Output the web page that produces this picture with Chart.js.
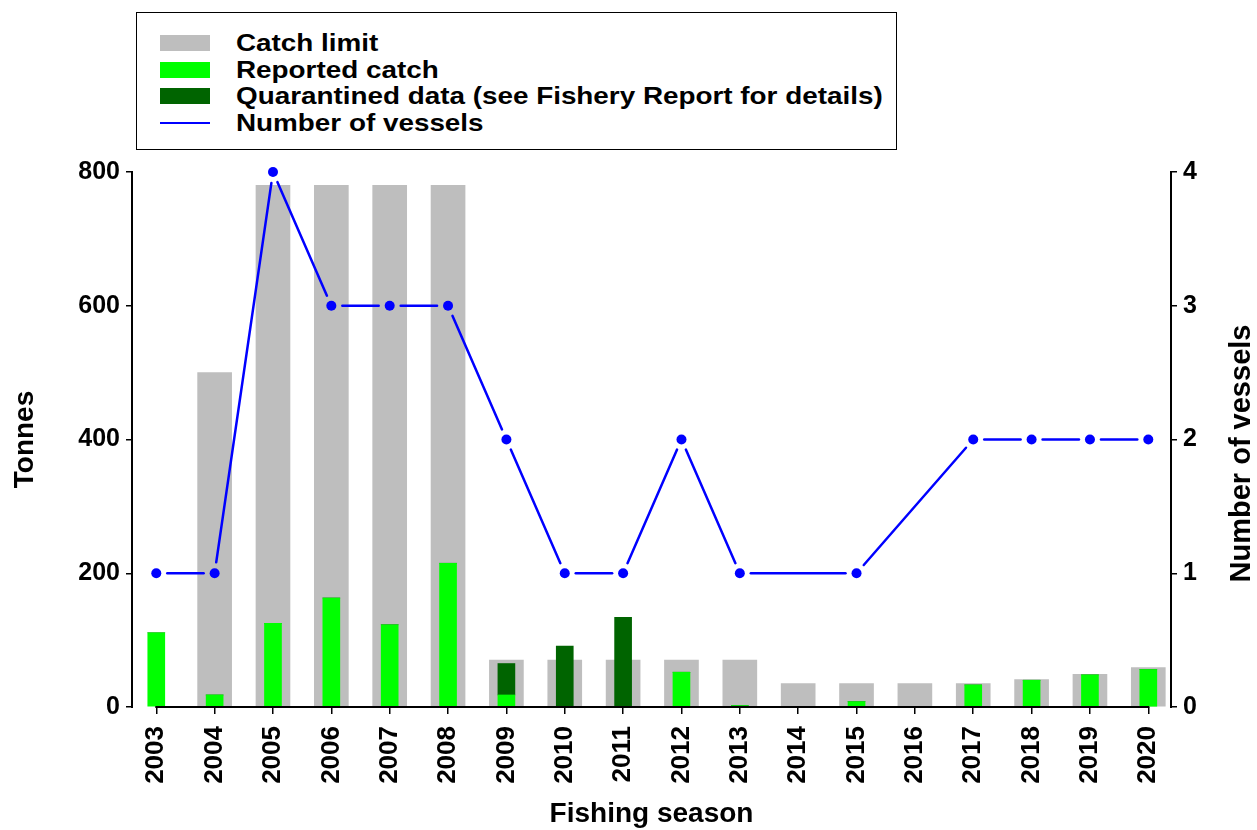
<!DOCTYPE html>
<html>
<head>
<meta charset="utf-8">
<script src="https://cdn.jsdelivr.net/npm/chart.js@4.4.1/dist/chart.umd.min.js"></script>
<style>
  body { margin: 0; background: #fff; }
  #wrap { position: relative; width: 1257px; height: 830px; }
  #legend {
    position: absolute; left: 136px; top: 12px; width: 761px; height: 138px;
    box-sizing: border-box; border: 1.5px solid #000; background: #fff;
    font: bold 24px "Liberation Sans", Arial, sans-serif; color: #000;
  }
  .row { position: absolute; left: 0; height: 26px; width: 700px; }
  .sw { position: absolute; left: 23px; top: 5px; width: 50px; height: 16px; }
  .sw.line { top: 12px; height: 2.5px; }
  .lab { position: absolute; left: 99px; top: 0; line-height: 26px; white-space: nowrap;
         transform: scaleX(1.16); transform-origin: left center; }
</style>
</head>
<body>
<div id="wrap">
  <canvas id="chart" width="1257" height="830"></canvas>
  <div id="legend"></div>
</div>
<script>
"use strict";

// fishing seasons and values
const seasons = [2003, 2004, 2005, 2006, 2007, 2008, 2009, 2010, 2011, 2012, 2013, 2014, 2015, 2016, 2017, 2018, 2019, 2020];
const catchLimit = [null, 500, 780, 780, 780, 780, 70, 70, 70, 70, 70, 35, 35, 35, 35, 41, 49, 59];
const reportedCatch = [111, 18, 125, 163, 123, 215, 18, 0, 0, 52, 2, 0, 8, 0, 33, 40, 48, 56];
const quarantinedCatch = [0, 0, 0, 0, 0, 0, 47, 91, 134, 0, 0, 0, 0, 0, 0, 0, 0, 0];
const vesselCount = [1, 1, 4, 3, 3, 3, 2, 1, 1, 2, 1, null, 1, null, 2, 2, 2, 2];
const tonneTicks = [0, 200, 400, 600, 800];
const vesselTicks = [0, 1, 2, 3, 4];
const rightTitle = "Number of vessels";

const legendItems = [
    { label: "Catch limit", color: "#BEBEBE", line: false },
    { label: "Reported catch", color: "#00FF00", line: false },
    { label: "Quarantined data (see Fishery Report for details)", color: "#006400", line: false },
    { label: "Number of vessels", color: "#0000FF", line: true }
];

(function () {
    const leg = document.getElementById("legend");
    legendItems.forEach(function (it, i) {
        const row = document.createElement("div");
        row.className = "row";
        row.style.top = (17 + i * 26.5) + "px";
        const sw = document.createElement("div");
        sw.className = it.line ? "sw line" : "sw";
        sw.style.background = it.color;
        const lab = document.createElement("div");
        lab.className = "lab";
        lab.textContent = it.label;
        row.appendChild(sw);
        row.appendChild(lab);
        leg.appendChild(row);
    });
})();

function toPoints(arr) {
    return seasons.map(function (yr, i) { return { x: yr, y: arr[i] }; });
}

// vessel line drawn with small gaps at the points (like R type="b"),
// the axis lines (R style, only over the tick range) and the right axis title
const gapLinePlugin = {
    id: "gapLine",
    afterDatasetsDraw(chart) {
        const ctx = chart.ctx;
        const meta = chart.getDatasetMeta(0);
        const pts = meta.data.filter(function (p, i) { return vesselCount[i] != null; });
        const gap = 11;
        ctx.save();
        ctx.strokeStyle = "#0000FF";
        ctx.lineWidth = 2.5;
        ctx.lineCap = "round";
        for (let i = 1; i < pts.length; i++) {
            const a = pts[i - 1], b = pts[i];
            const dx = b.x - a.x, dy = b.y - a.y;
            const len = Math.hypot(dx, dy);
            if (len <= 2 * gap) continue;
            const ux = dx / len, uy = dy / len;
            ctx.beginPath();
            ctx.moveTo(a.x + ux * gap, a.y + uy * gap);
            ctx.lineTo(b.x - ux * gap, b.y - uy * gap);
            ctx.stroke();
        }
        ctx.restore();
    },
    afterDraw(chart) {
        const ctx = chart.ctx;
        const xs = chart.scales.x, yr = chart.scales.y2;
        const area = chart.chartArea;
        const x0 = xs.getPixelForValue(seasons[0]);
        const x1 = xs.getPixelForValue(seasons[seasons.length - 1]);
        const h = area.bottom - area.top;
        ctx.save();
        ctx.fillStyle = "#000000";
        ctx.fillRect(x0 - 1, area.bottom - 1, x1 - x0 + 2, 2);
        ctx.fillRect(area.left - 1, area.top - 1, 2, h + 2);
        ctx.fillRect(area.right - 1, area.top - 1, 2, h + 2);

        ctx.translate(yr.right - 15, (area.top + area.bottom) / 2 + 14);
        ctx.rotate(-Math.PI / 2);
        ctx.font = 'bold 29px "Liberation Sans", Arial, sans-serif';
        ctx.textAlign = "center";
        ctx.textBaseline = "middle";
        ctx.fillText(rightTitle, 0, 0);
        ctx.restore();
    }
};

Chart.defaults.font.family = '"Liberation Sans", Arial, sans-serif';
Chart.defaults.font.weight = "bold";
Chart.defaults.color = "#000";

const axisTick = { display: true, drawOnChartArea: false, drawTicks: true, color: "#000", lineWidth: 1.5, offset: false };

new Chart(document.getElementById("chart"), {
    data: {
        datasets: [
            {
                type: "line",
                label: "Number of vessels",
                data: toPoints(vesselCount),
                yAxisID: "y2",
                showLine: false,
                pointRadius: 5,
                pointHoverRadius: 5,
                pointBorderWidth: 0,
                pointBackgroundColor: "#0000FF",
                clip: false,
                order: 0
            },
            {
                type: "bar",
                label: "Reported catch",
                data: toPoints(reportedCatch),
                backgroundColor: "#00FF00",
                barThickness: 17,
                grouped: false,
                stack: "catch",
                order: 1
            },
            {
                type: "bar",
                label: "Quarantined data",
                data: toPoints(quarantinedCatch),
                backgroundColor: "#006400",
                barThickness: 17,
                grouped: false,
                stack: "catch",
                order: 2
            },
            {
                type: "bar",
                label: "Catch limit",
                data: toPoints(catchLimit),
                backgroundColor: "#BEBEBE",
                barThickness: 34,
                grouped: false,
                stack: "limit",
                order: 3
            }
        ]
    },
    options: {
        responsive: false,
        animation: false,
        devicePixelRatio: 1,
        layout: { padding: { top: 172, left: 0, right: 0, bottom: 0 } },
        plugins: { legend: { display: false }, tooltip: { enabled: false } },
        scales: {
            x: {
                type: "linear",
                position: "bottom",
                offset: false,
                min: 2002.584,
                max: 2020.389,
                stacked: true,
                afterBuildTicks: function (scale) {
                    scale.ticks = seasons.map(function (v) { return { value: v }; });
                },
                afterFit: function (scale) { scale.height = 123; },
                ticks: {
                    autoSkip: false,
                    minRotation: 90,
                    maxRotation: 90,
                    padding: 12,
                    font: { size: 26, weight: "bold" },
                    callback: function (v) { return String(v); }
                },
                grid: Object.assign({ tickLength: 7 }, axisTick),
                border: { display: false },
                title: {
                    display: true,
                    text: "Fishing season",
                    font: { size: 28, weight: "bold", lineHeight: 1.1 },
                    padding: { top: 0, bottom: 0 }
                }
            },
            y: {
                position: "left",
                min: 0,
                max: 800,
                stacked: true,
                afterBuildTicks: function (scale) {
                    scale.ticks = tonneTicks.map(function (v) { return { value: v }; });
                },
                afterFit: function (scale) { scale.width = 132; },
                ticks: { padding: 6, font: { size: 25, weight: "bold" } },
                grid: Object.assign({ tickLength: 6 }, axisTick),
                border: { display: false },
                title: {
                    display: true,
                    text: "Tonnes",
                    font: { size: 28, weight: "bold" },
                    padding: { top: 8, bottom: 0 }
                }
            },
            y2: {
                position: "right",
                min: 0,
                max: 4,
                afterBuildTicks: function (scale) {
                    scale.ticks = vesselTicks.map(function (v) { return { value: v }; });
                },
                afterFit: function (scale) { scale.width = 86; },
                ticks: { padding: 6, font: { size: 25, weight: "bold" } },
                grid: Object.assign({ tickLength: 6 }, axisTick),
                border: { display: false },
                title: { display: false }
            }
        }
    },
    plugins: [gapLinePlugin]
});
</script>
</body>
</html>
